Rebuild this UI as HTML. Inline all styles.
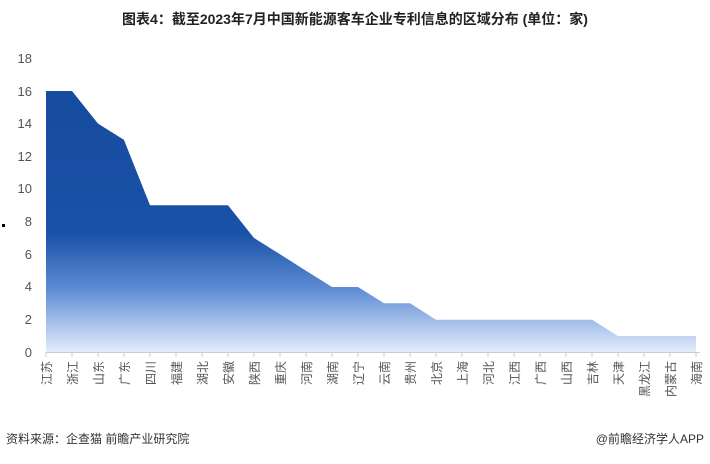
<!DOCTYPE html>
<html><head><meta charset="utf-8"><style>
body{margin:0;background:#fff;width:710px;height:459px;overflow:hidden;font-family:"Liberation Sans","Noto Sans CJK SC",sans-serif;}
</style></head><body>
<svg width="710" height="459" xmlns="http://www.w3.org/2000/svg" font-family="Liberation Sans, Noto Sans CJK SC, sans-serif">
<defs>
<linearGradient id="g" x1="0" y1="58" x2="0" y2="352" gradientUnits="userSpaceOnUse">
<stop offset="0" stop-color="#144a9c"/>
<stop offset="0.6" stop-color="#1a52a8"/>
<stop offset="0.78" stop-color="#5b8ad3"/>
<stop offset="1" stop-color="#e3ecfc"/>
</linearGradient>
</defs>
<text x="355" y="24" text-anchor="middle" font-size="14" font-weight="bold" fill="#222">图表4：截至2023年7月中国新能源客车企业专利信息的区域分布 (单位：家)</text>
<g font-size="13" fill="#555" text-anchor="end">
<text x="32" y="357">0</text><text x="32" y="324">2</text><text x="32" y="291">4</text><text x="32" y="259">6</text><text x="32" y="226">8</text><text x="32" y="193">10</text><text x="32" y="161">12</text><text x="32" y="128">14</text><text x="32" y="96">16</text><text x="32" y="63">18</text>
</g>
<rect x="2" y="224" width="3" height="3" fill="#000"/>
<polygon fill="url(#g)" points="46,352 46,91 72,91 98,123.6 124,139.9 150,205.3 176,205.3 202,205.3 228,205.3 254,238 280,254.3 306,270.7 332,287 358,287 384,303.3 410,303.3 436,319.7 462,319.7 488,319.7 514,319.7 540,319.7 566,319.7 592,319.7 618,336 644,336 670,336 696,336 696,352"/>
<line x1="46" y1="352.5" x2="700" y2="352.5" stroke="#ccc"/>
<g stroke="#ccc" id="ticks"></g>
<g font-size="12" fill="#555" id="labs" text-anchor="end"></g>
<text x="6" y="443" font-size="12" fill="#333">资料来源：企查猫 前瞻产业研究院</text>
<text x="704" y="443" font-size="12" fill="#333" text-anchor="end">@前瞻经济学人APP</text>
<script>
var n=["江苏","浙江","山东","广东","四川","福建","湖北","安徽","陕西","重庆","河南","湖南","辽宁","云南","贵州","北京","上海","河北","江西","广西","山西","吉林","天津","黑龙江","内蒙古","海南"];
var t=document.getElementById("ticks"),l=document.getElementById("labs"),s="http://www.w3.org/2000/svg";
n.forEach(function(c,i){var x=46+i*26;var ln=document.createElementNS(s,"line");ln.setAttribute("x1",x);ln.setAttribute("x2",x);ln.setAttribute("y1",352);ln.setAttribute("y2",357);t.appendChild(ln);
var tx=document.createElementNS(s,"text");tx.setAttribute("transform","translate("+(x+5)+",361) rotate(-90)");tx.textContent=c;l.appendChild(tx);});
</script>
</svg>
</body></html>
